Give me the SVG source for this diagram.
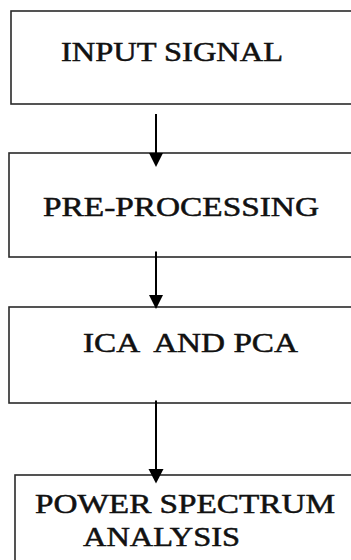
<svg xmlns="http://www.w3.org/2000/svg" width="351" height="560" viewBox="0 0 351 560">
<defs>
<style>
.box{fill:#fff;stroke:#2a2a2a;stroke-width:1.6}
.lbl{font-family:'Liberation Serif','Times New Roman',serif;font-size:26.5px;fill:#111;stroke:#111;stroke-width:0.5}
.conn{stroke:#000;stroke-width:2;fill:none}
.head{fill:#000}
</style>
</defs>
<rect width="351" height="560" fill="#fff"/>
<g id="node-input">
<rect class="box" x="11" y="11" width="360" height="93"/>
<text class="lbl" x="61" y="61" textLength="222" lengthAdjust="spacingAndGlyphs">INPUT SIGNAL</text>
</g>
<g id="node-preprocessing">
<rect class="box" x="9" y="153" width="360" height="104"/>
<text class="lbl" x="43" y="215.5" textLength="276" lengthAdjust="spacingAndGlyphs">PRE-PROCESSING</text>
</g>
<g id="node-ica-pca">
<rect class="box" x="9" y="307" width="360" height="96"/>
<text class="lbl" x="83" y="351.5" textLength="215" lengthAdjust="spacingAndGlyphs" xml:space="preserve">ICA  AND PCA</text>
</g>
<g id="node-power-spectrum">
<rect class="box" x="15" y="475" width="360" height="100"/>
<text class="lbl" x="35" y="512.5" textLength="300" lengthAdjust="spacingAndGlyphs">POWER SPECTRUM</text>
<text class="lbl" x="83" y="545.5" textLength="157" lengthAdjust="spacingAndGlyphs">ANALYSIS</text>
</g>
<g id="connectors">
<line class="conn" x1="156" y1="114" x2="156" y2="155"/>
<polygon class="head" points="149,153 163,153 156,167"/>
<line class="conn" x1="156" y1="251.5" x2="156" y2="297"/>
<polygon class="head" points="149,295 163,295 156,309"/>
<line class="conn" x1="156" y1="400.5" x2="156" y2="471"/>
<polygon class="head" points="148.5,469 163.5,469 156,483.5"/>
</g>
</svg>
